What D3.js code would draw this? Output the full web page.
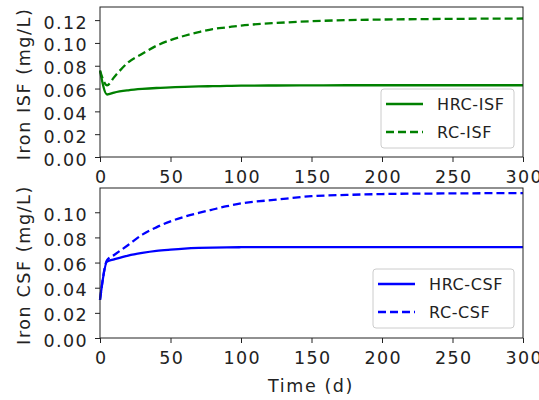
<!DOCTYPE html>
<html><head><meta charset="utf-8">
<script src="https://cdn.jsdelivr.net/npm/d3@7"></script>
<style>body{margin:0;background:#fff}svg{display:block}text{font-family:"DejaVu Sans",sans-serif;fill:#222}</style>
</head><body><svg id="c" width="539" height="400"></svg>
<script>
const days = [0, 5, 10, 20, 30, 40, 50, 60, 70, 80, 90, 100, 125, 150, 175, 200, 250, 300];
const hrcIsf = [0.0757, 0.0548, 0.0565, 0.0585, 0.0597, 0.0605, 0.0610, 0.0615, 0.0619, 0.0621, 0.0623, 0.0625, 0.0627, 0.0628, 0.0629, 0.0629, 0.0629, 0.0629];
const rcIsf  = [0.0757, 0.0628, 0.0700, 0.0830, 0.0905, 0.0975, 0.1025, 0.1063, 0.1095, 0.1122, 0.1137, 0.1152, 0.1175, 0.1190, 0.1200, 0.1205, 0.1211, 0.1214];
const hrcCsf = [0.0303, 0.0608, 0.0625, 0.0656, 0.0677, 0.0693, 0.0703, 0.0711, 0.0716, 0.0719, 0.0721, 0.0722, 0.0723, 0.0723, 0.0723, 0.0723, 0.0723, 0.0723];
const rcCsf  = [0.0303, 0.0620, 0.0660, 0.0740, 0.0822, 0.0880, 0.0928, 0.0965, 0.0995, 0.1022, 0.1048, 0.1070, 0.1100, 0.1128, 0.1138, 0.1145, 0.1150, 0.1153];
const xTicks = [0, 50, 100, 150, 200, 250, 300];
const yTicksTop = [0, 0.02, 0.04, 0.06, 0.08, 0.10, 0.12];
const yTicksBottom = [0, 0.02, 0.04, 0.06, 0.08, 0.10];

const svg = d3.select("#c");
const fs = 17.5, ls = 1.4;
const panels = [
  {top: 7, bottom: 157, ymax: 0.1315, yticks: yTicksTop, ylabel: "Iron ISF (mg/L)", color: "#008000",
   series: [{name: "HRC-ISF", v: hrcIsf, dash: null}, {name: "RC-ISF", v: rcIsf, dash: "8,4"}],
   legend: {x: 381, y: 89, w: 133, h: 59}},
  {top: 188, bottom: 338, ymax: 0.1193, yticks: yTicksBottom, ylabel: "Iron CSF (mg/L)", color: "#0000ff",
   series: [{name: "HRC-CSF", v: hrcCsf, dash: null}, {name: "RC-CSF", v: rcCsf, dash: "8,4"}],
   legend: {x: 373, y: 269, w: 141, h: 59}}
];
const x = d3.scaleLinear().domain([0, 300]).range([100, 523]);

panels.forEach(p => {
  const y = d3.scaleLinear().domain([0, p.ymax]).range([p.bottom, p.top]);
  const g = svg.append("g");
  const line = d3.line().x((d, i) => x(days[i])).y(d => y(d)).curve(d3.curveMonotoneX);
  p.series.forEach(s => {
    g.append("path").attr("d", line(s.v)).attr("fill", "none").attr("stroke", p.color)
      .attr("stroke-width", 2.3).attr("stroke-dasharray", s.dash);
  });
  g.append("rect").attr("x", 100).attr("y", p.top).attr("width", 423).attr("height", p.bottom - p.top)
    .attr("fill", "none").attr("stroke", "#222").attr("stroke-width", 1);
  const xa = g.append("g").attr("transform", `translate(0,${p.bottom})`)
    .call(d3.axisBottom(x).tickValues(xTicks).tickSize(5).tickPadding(9).tickFormat(d3.format("d")));
  const ya = g.append("g").attr("transform", `translate(100,0)`)
    .call(d3.axisLeft(y).tickValues(p.yticks).tickSize(5).tickPadding(7).tickFormat(d3.format(".2f")));
  [xa, ya].forEach(a => {
    a.select(".domain").remove();
    a.selectAll("line").attr("stroke", "#222");
    a.selectAll("text").attr("font-size", fs).attr("fill", "#222").attr("letter-spacing", ls)
      .attr("font-family", '"DejaVu Sans",sans-serif');
  });
  xa.selectAll("text").attr("dx", ls / 2);
  ya.selectAll("text").attr("dy", "0.46em");
  g.append("text").attr("transform", `translate(29.5,${(p.top + p.bottom) / 2 + 2}) rotate(-90)`)
    .attr("text-anchor", "middle").attr("font-size", fs).attr("letter-spacing", 1.6).text(p.ylabel);
  const L = p.legend;
  g.append("rect").attr("x", L.x).attr("y", L.y).attr("width", L.w).attr("height", L.h).attr("rx", 3)
    .attr("fill", "#fff").attr("fill-opacity", 0.8).attr("stroke", "#ccc");
  p.series.forEach((s, i) => {
    const ly = L.y + 15 + i * 28;
    g.append("line").attr("x1", L.x + 5).attr("x2", L.x + 42).attr("y1", ly).attr("y2", ly)
      .attr("stroke", p.color).attr("stroke-width", 2.3).attr("stroke-dasharray", s.dash);
    g.append("text").attr("x", L.x + 56).attr("y", ly + 6).attr("font-size", 16).attr("letter-spacing", 0.6).text(s.name);
  });
});
svg.append("text").attr("x", 311).attr("y", 392).attr("text-anchor", "middle").attr("font-size", fs)
  .attr("letter-spacing", 1.6).text("Time (d)");
</script></body></html>
